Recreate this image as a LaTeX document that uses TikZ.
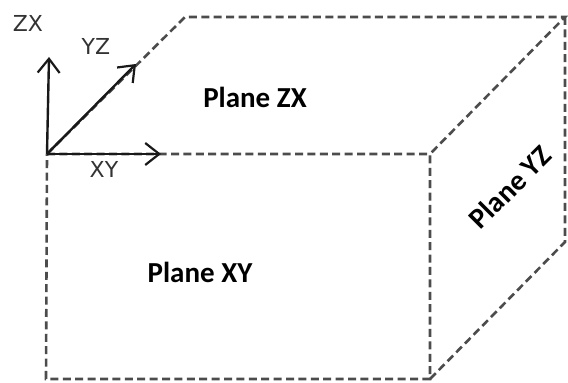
\documentclass[tikz,border=0pt]{standalone}
\usepackage{fontspec}
\setmainfont{Carlito}
\newfontfamily\axisfont{DejaVu Sans}
\usetikzlibrary{arrows.meta}
\tikzset{
  edge/.style={draw=black!70,line width=1.3pt,dash pattern=on 4pt off 2.2pt},
  axis/.style={draw=black!90,line width=1.2pt,-{Straight Barb[length=7pt,width=11pt,line width=1.1pt]}},
  planelabel/.style={font=\fontsize{14.5}{17}\bfseries\selectfont},
  axislabel/.style={text=black!80,font=\axisfont\fontsize{11}{13}\selectfont}
}
\begin{document}
\begin{tikzpicture}[x=0.5pt,y=-0.5pt]% ------ pave et plans ----------------
    \useasboundingbox (0,0) rectangle (568,383);
    % sommets du pave
    \coordinate (A) at (47,154);   \coordinate (B) at (430,154);
    \coordinate (C) at (430,379);  \coordinate (D) at (46,379);
    \coordinate (E) at (185,17);   \coordinate (F) at (565,17);
    \coordinate (G) at (565,242);
    \draw [edge] (A)--(B)--(C)--(D)--cycle;
    \draw [edge] (A)--(E)--(F)--(B);
    \draw [edge] (F)--(G)--(C);
    % axes
    \coordinate (zx) at (49,57);
    \coordinate (yz) at (136,64);
    \coordinate (xy) at (161,154);
    \draw [axis] (A)--(zx);
    \draw [axis] (A)--(yz);
    \draw [axis] (A)--(xy);
    \node [axislabel] (lzx) at (28,23) {ZX};
    \node [axislabel] (lyz) at (96,46) {YZ};
    \node [axislabel] (lxy) at (104,169) {XY};
    % noms des plans
    \node [planelabel] (pzx) at (255,97) {Plane ZX};
    \node [planelabel] (pxy) at (200,272) {Plane XY};
    \node [planelabel,rotate=45] (pyz) at (510,187) {Plane YZ};
\end{tikzpicture}
\end{document}
